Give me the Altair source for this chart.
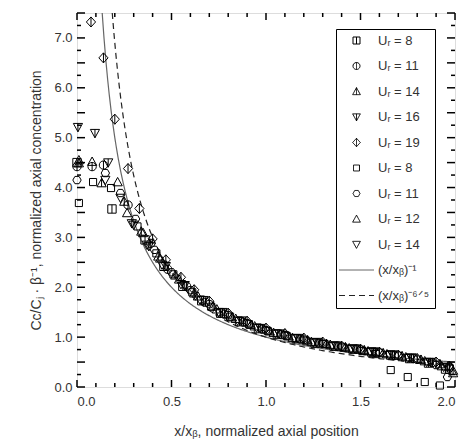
import altair as alt
import numpy as np
import pandas as pd

# ---- series data ----
keys = ["Uᵣ = 8", "Uᵣ = 11", "Uᵣ = 14", "Uᵣ = 16", "Uᵣ = 19",
        "Uᵣ = 8 ", "Uᵣ = 11 ", "Uᵣ = 12", "Uᵣ = 14 ",
        "(x/xᵦ)⁻¹", "(x/xᵦ)⁻⁶ᐟ⁵"]

a8_x = [0.0, 0.185, 0.36, 0.46, 0.56, 0.66, 0.76, 0.86, 0.96, 1.06, 1.16, 1.26, 1.36, 1.46, 1.56, 1.66, 1.76, 1.86, 1.95]
a8_y = [4.5, 3.57, 2.95, 2.42, 2.02, 1.73, 1.48, 1.31, 1.17, 1.06, 0.97, 0.88, 0.82, 0.76, 0.70, 0.64, 0.57, 0.48, 0.36]

a11_x = [0.0, 0.08, 0.14, 0.27, 0.39, 0.48, 0.58, 0.68, 0.78, 0.88, 0.98, 1.08, 1.18, 1.28, 1.38, 1.48, 1.58, 1.68, 1.78, 1.88, 1.97]
a11_y = [4.42, 4.42, 4.45, 3.65, 2.88, 2.36, 2.02, 1.70, 1.46, 1.30, 1.16, 1.05, 0.96, 0.88, 0.82, 0.76, 0.69, 0.63, 0.57, 0.49, 0.38]

a14_x = [0.01, 0.13, 0.25, 0.34, 0.43, 0.52, 0.62, 0.72, 0.82, 0.92, 1.02, 1.12, 1.22, 1.32, 1.42, 1.52, 1.62, 1.72, 1.82, 1.92, 1.99]
a14_y = [4.49, 4.09, 3.72, 3.12, 2.62, 2.24, 1.88, 1.62, 1.40, 1.25, 1.12, 1.02, 0.94, 0.87, 0.80, 0.74, 0.68, 0.62, 0.55, 0.46, 0.33]

a16_x = [0.005, 0.095, 0.165, 0.29, 0.38, 0.47, 0.57, 0.67, 0.77, 0.87, 0.97, 1.07, 1.17, 1.27, 1.37, 1.47, 1.57, 1.67, 1.77, 1.87, 1.96]
a16_y = [5.21, 5.09, 4.50, 3.28, 2.82, 2.42, 2.04, 1.74, 1.50, 1.33, 1.18, 1.07, 0.98, 0.90, 0.83, 0.77, 0.71, 0.65, 0.59, 0.50, 0.40]

a19_x = [0.074, 0.14, 0.20, 0.27, 0.33, 0.40, 0.47, 0.55, 0.62, 0.70, 0.80, 0.90, 1.00, 1.10, 1.20, 1.30, 1.40, 1.50, 1.60, 1.70, 1.80, 1.90, 1.97]
a19_y = [7.32, 6.60, 5.37, 4.38, 3.58, 2.97, 2.55, 2.20, 1.95, 1.72, 1.48, 1.32, 1.18, 1.07, 0.98, 0.90, 0.82, 0.76, 0.70, 0.64, 0.57, 0.50, 0.42]

b8_x = [0.01, 0.085, 0.18, 0.32, 0.42, 0.51, 0.61, 0.71, 0.81, 0.91, 1.01, 1.11, 1.21, 1.31, 1.41, 1.51, 1.58, 1.66, 1.75, 1.84, 1.92]
b8_y = [3.69, 4.11, 3.99, 3.22, 2.68, 2.26, 1.90, 1.61, 1.41, 1.26, 1.12, 1.02, 0.93, 0.86, 0.79, 0.72, 0.66, 0.34, 0.20, 0.10, 0.03]

b11_x = [0.0, 0.15, 0.23, 0.31, 0.41, 0.50, 0.60, 0.70, 0.80, 0.90, 1.00, 1.10, 1.20, 1.30, 1.40, 1.50, 1.60, 1.70, 1.80, 1.90, 1.96]
b11_y = [4.15, 4.29, 3.89, 3.37, 2.75, 2.30, 1.94, 1.66, 1.44, 1.28, 1.14, 1.04, 0.95, 0.87, 0.81, 0.75, 0.69, 0.63, 0.55, 0.44, 0.20]

b12_x = [0.01, 0.08, 0.215, 0.265, 0.35, 0.44, 0.54, 0.64, 0.74, 0.84, 0.94, 1.04, 1.14, 1.24, 1.34, 1.44, 1.54, 1.64, 1.74, 1.84, 1.93, 1.99]
b12_y = [4.55, 4.52, 4.11, 3.49, 3.09, 2.58, 2.16, 1.82, 1.56, 1.37, 1.22, 1.09, 0.99, 0.91, 0.85, 0.78, 0.72, 0.66, 0.60, 0.52, 0.42, 0.28]

b14_x = [0.15, 0.23, 0.30, 0.37, 0.45, 0.55, 0.65, 0.75, 0.85, 0.95, 1.05, 1.15, 1.25, 1.35, 1.45, 1.55, 1.65, 1.75, 1.85, 1.94]
b14_y = [4.15, 3.79, 3.25, 2.85, 2.45, 2.06, 1.75, 1.50, 1.33, 1.19, 1.07, 0.97, 0.89, 0.82, 0.76, 0.70, 0.64, 0.58, 0.50, 0.40]

series_x = [a8_x, a11_x, a14_x, a16_x, a19_x, b8_x, b11_x, b12_x, b14_x]
series_y = [a8_y, a11_y, a14_y, a16_y, a19_y, b8_y, b11_y, b12_y, b14_y]

# model curves (x/xb)^-1 and (x/xb)^-6/5
exponents = [-1.0, -1.2]

# axis ticks
x_major = [0.0, 0.5, 1.0, 1.5, 2.0]
x_minor = [0.1, 0.2, 0.3, 0.4, 0.6, 0.7, 0.8, 0.9, 1.1, 1.2, 1.3, 1.4, 1.6, 1.7, 1.8, 1.9]
y_major = [0.0, 0.5, 1.0, 1.5, 2.0, 2.5, 3.0, 3.5, 4.0, 4.5, 5.0, 5.5, 6.0, 6.5, 7.0, 7.5]
y_minor = [0.25, 0.75, 1.25, 1.75, 2.25, 2.75, 3.25, 3.75, 4.25, 4.75, 5.25, 5.75, 6.25, 6.75, 7.25]

# ---- styles ----
sq_x = "M-1,-1H1V1H-1Z M0,-1V1"
ci_x = "M-1,0A1,1 0 1,1 1,0A1,1 0 1,1 -1,0Z M0,-1V1"
tu_x = "M0,-1.1L1.1,0.9H-1.1Z M0,-1.1V0.9"
td_x = "M0,1.1L1.1,-0.9H-1.1Z M0,1.1V-0.9"
di_x = "M0,-1.2L1.1,0L0,1.2L-1.1,0Z M0,-1.2V1.2"
sq = "M-0.85,-0.85H0.85V0.85H-0.85Z"
hx = "M-1,0L-0.5,-0.87H0.5L1,0L0.5,0.87H-0.5Z"
tu = "M0,-1.1L1.1,0.9H-1.1Z"
td = "M0,1.1L1.1,-0.9H-1.1Z"
ln = "M-5,0H5"
shapes = [sq_x, ci_x, tu_x, td_x, di_x, sq, hx, tu, td, ln, ln]
colors = ["#000"] * 9 + ["#666", "#222"]
dashes = [[1, 0]] * 10 + [[6, 4]]

W, H = 378, 374
FONT = "Liberation Sans"
XMAX, YMAX = 2.0, 7.5

rows = []
for k, xs, ys in zip(keys[:9], series_x, series_y):
    for a, b in zip(xs, ys):
        rows.append({"x": a, "y": b, "s": k})
pts = pd.DataFrame(rows)

crv = []
for k, e in zip(keys[9:], exponents):
    x0 = YMAX ** (1.0 / e)
    for a in np.linspace(x0, XMAX, 200):
        crv.append({"x": a, "y": a ** e, "s": k})
crv = pd.DataFrame(crv)

leg = alt.Legend(title=None, orient="none", legendX=259, legendY=16,
                 strokeColor="#000", padding=5, rowPadding=11.5,
                 labelFont=FONT, labelFontSize=13, labelColor="#333",
                 labelOffset=15, symbolOffset=9, symbolSize=49,
                 symbolStrokeWidth=1, labelOverlap=False)

sc_shape = alt.Scale(domain=keys, range=shapes)
sc_color = alt.Scale(domain=keys, range=colors)
sc_dash = alt.Scale(domain=keys, range=dashes)

xs_ = alt.Scale(domain=[0, XMAX], nice=False, zero=False)
ys_ = alt.Scale(domain=[0, YMAX], nice=False, zero=False)

xax = alt.Axis(values=x_major, format=".1f", ticks=False, domain=False, grid=False,
               labelFont=FONT, labelFontSize=13, labelColor="#333", labelPadding=8,
               labelOverlap=False,
               titleFont=FONT, titleFontSize=14, titleColor="#333", titleFontWeight="normal",
               titlePadding=16)
yax = alt.Axis(values=y_major, format=".1f", ticks=False, domain=False, grid=False,
               labelFont=FONT, labelFontSize=13, labelColor="#333", labelPadding=5,
               labelOverlap=False,
               titleFont=FONT, titleFontSize=14, titleColor="#333", titleFontWeight="normal",
               titleX=-41, titleBaseline="middle")

curves = alt.Chart(crv).mark_line(strokeWidth=1.2).encode(
    x=alt.X("x:Q", scale=xs_, axis=xax, title="x/xᵦ, normalized axial position"),
    y=alt.Y("y:Q", scale=ys_, axis=yax, title="Cc/Cⱼ · β⁻¹, normalized axial concentration"),
    color=alt.Color("s:N", scale=sc_color, legend=leg),
    strokeDash=alt.StrokeDash("s:N", scale=sc_dash, legend=leg),
)

points = alt.Chart(pts).mark_point(filled=False, strokeWidth=1, opacity=1, size=70).encode(
    x=alt.X("x:Q", scale=xs_),
    y=alt.Y("y:Q", scale=ys_),
    shape=alt.Shape("s:N", scale=sc_shape, legend=leg),
    color=alt.Color("s:N", scale=sc_color, legend=leg),
)

# tick lengths (pixels) converted to data units
tx_major, tx_minor = 7 * YMAX / H, 4 * YMAX / H
ty_major, ty_minor = 8 * XMAX / W, 4 * XMAX / W

def vt(vals, y0, y1):
    return pd.DataFrame({"x": vals, "y": [y0] * len(vals), "y2": [y1] * len(vals)})

def ht(vals, x0, x1):
    return pd.DataFrame({"y": vals, "x": [x0] * len(vals), "x2": [x1] * len(vals)})

vdata = pd.concat([vt(x_major, 0, tx_major), vt(x_minor, 0, tx_minor),
                   vt(x_major, YMAX, YMAX - tx_major), vt(x_minor, YMAX, YMAX - tx_minor)],
                  ignore_index=True)
hdata = pd.concat([ht(y_major, 0, ty_major), ht(y_minor, 0, ty_minor),
                   ht(y_major, XMAX, XMAX - ty_major), ht(y_minor, XMAX, XMAX - ty_minor)],
                  ignore_index=True)

vticks = alt.Chart(vdata).mark_rule(color="#000", strokeWidth=1.5, opacity=1).encode(
    x=alt.X("x:Q", scale=xs_), y=alt.Y("y:Q", scale=ys_), y2="y2:Q")
hticks = alt.Chart(hdata).mark_rule(color="#000", strokeWidth=1.5, opacity=1).encode(
    y=alt.Y("y:Q", scale=ys_), x=alt.X("x:Q", scale=xs_), x2="x2:Q")

chart = alt.layer(curves, points, vticks, hticks).properties(
    width=W, height=H,
    autosize=alt.AutoSizeParams(type="none"),
    padding={"left": 69, "top": 5, "right": 11, "bottom": 57},
).configure_view(stroke="#000", strokeWidth=2).configure(background="white")

chart.save("out.html", embed_options={"renderer": "svg", "actions": False})
